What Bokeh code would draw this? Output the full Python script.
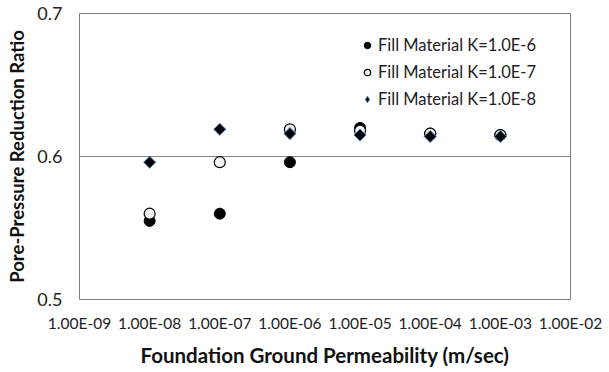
import numpy as np
from bokeh.plotting import figure
from bokeh.models import (FixedTicker, CustomJSTickFormatter, Legend, LegendItem,
                          Range1d)
from bokeh.embed import file_html
from bokeh.resources import INLINE

# Foundation ground permeability (m/sec) for each computed case
permeability = [1e-8, 1e-7, 1e-6, 1e-5, 1e-4, 1e-3]

# Pore-pressure reduction ratio for each fill material permeability
ratio_k6 = [0.555, 0.560, 0.596, 0.620, 0.616, 0.615]
ratio_k7 = [0.560, 0.596, 0.619, 0.618, 0.616, 0.615]
ratio_k8 = [0.596, 0.619, 0.616, 0.615, 0.614, 0.614]

series_names = ["Fill Material K=1.0E-6", "Fill Material K=1.0E-7", "Fill Material K=1.0E-8"]

x_ticks = [1e-9, 1e-8, 1e-7, 1e-6, 1e-5, 1e-4, 1e-3, 1e-2]
y_ticks = [0.5, 0.6, 0.7]

FONT = "Lato"

p = figure(width=609, height=372, x_axis_type="log",
           x_range=Range1d(1e-9, 1e-2), y_range=Range1d(0.5, 0.7),
           output_backend="svg", toolbar_location=None,
           min_border_left=79, min_border_right=39,
           min_border_top=13, min_border_bottom=73)

p.background_fill_color = "white"
p.border_fill_color = "white"
p.outline_line_color = "#7f7f7f"
p.outline_line_width = 1

# grid: single horizontal line at 0.6
p.xgrid.visible = False
p.ygrid.ticker = FixedTicker(ticks=[0.6])
p.ygrid.grid_line_color = "#868686"
p.ygrid.grid_line_width = 1

for ax in (p.xaxis[0], p.yaxis[0]):
    ax.axis_line_color = None
    ax.major_tick_line_color = None
    ax.minor_tick_line_color = None
    ax.major_tick_out = 0
    ax.major_tick_in = 0
    ax.minor_tick_out = 0
    ax.major_label_text_font = FONT
    ax.major_label_text_color = "#222222"
    ax.axis_label_text_font = FONT
    ax.axis_label_text_font_style = "bold"
    ax.axis_label_text_color = "#111111"

p.xaxis.ticker = FixedTicker(ticks=x_ticks)
p.xaxis.formatter = CustomJSTickFormatter(code="""
    const e = Math.round(Math.log10(tick));
    const s = String(Math.abs(e)).padStart(2, '0');
    return '1.00E' + (e < 0 ? '-' : '+') + s;
""")
p.xaxis.major_label_text_font_size = "15.5px"
p.xaxis.major_label_standoff = 14
p.xaxis.axis_label = "Foundation Ground Permeability (m/sec)"
p.xaxis.axis_label_text_font_size = "20.5px"
p.xaxis.axis_label_standoff = 8

p.yaxis.ticker = FixedTicker(ticks=y_ticks)
p.yaxis.formatter = CustomJSTickFormatter(code="return tick.toFixed(1);")
p.yaxis.major_label_text_font_size = "18px"
p.yaxis.major_label_standoff = 17
p.yaxis.axis_label = "Pore-Pressure Reduction Ratio"
p.yaxis.axis_label_text_font_size = "18.5px"
p.yaxis.axis_label_standoff = 6

r6 = p.scatter(permeability, ratio_k6, marker="circle", size=11,
               fill_color="black", line_color="black", line_width=1)
r7 = p.scatter(permeability, ratio_k7, marker="circle", size=11,
               fill_color="#f2f2f2", line_color="black", line_width=1.2)
# diamond drawn as a square turned 45 degrees
r8 = p.scatter(permeability, ratio_k8, marker="square", size=8.5, angle=np.pi / 4,
               fill_color="black", line_color="#4a7ebb", line_width=1)
# legend swatch for the diamond series (the legend ignores marker angle);
# its single NaN point draws nothing in the plot area
r8_key = p.scatter(x=[np.nan], y=[np.nan], marker="diamond", size=12,
                   fill_color="black", line_color="#4a7ebb", line_width=1)

legend = Legend(items=[LegendItem(label=series_names[0], renderers=[r6]),
                       LegendItem(label=series_names[1], renderers=[r7]),
                       LegendItem(label=series_names[2], renderers=[r8_key])],
                location=(280, 190))
legend.border_line_color = None
legend.background_fill_alpha = 0
legend.padding = 0
legend.margin = 0
legend.spacing = 7
legend.glyph_width = 16
legend.glyph_height = 20
legend.label_height = 20
legend.label_standoff = 3
legend.label_text_font = FONT
legend.label_text_font_size = "16.5px"
legend.label_text_color = "#222222"
p.add_layout(legend)

open("out.html", "w").write(file_html(p, INLINE))
